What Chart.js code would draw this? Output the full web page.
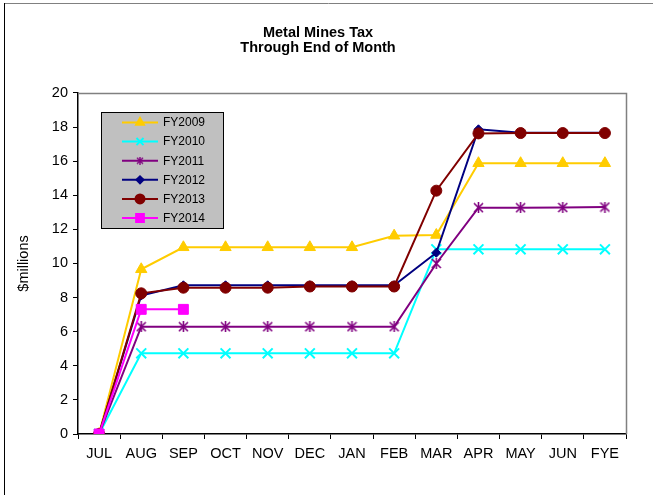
<!DOCTYPE html>
<html>
<head>
<meta charset="utf-8">
<script src="https://cdn.jsdelivr.net/npm/chart.js@4/dist/chart.umd.min.js"></script>
<style>
  html, body { margin: 0; padding: 0; background: #ffffff; }
  #wrap { width: 653px; height: 495px; position: relative; }
</style>
</head>
<body>
<div id="wrap"><canvas id="c" width="653" height="495"></canvas></div>
<script>
// ---- data ----
const months = ['JUL','AUG','SEP','OCT','NOV','DEC','JAN','FEB','MAR','APR','MAY','JUN','FYE'];
const seriesNames = ['FY2009','FY2010','FY2011','FY2012','FY2013','FY2014'];
const fy2009 = [0, 9.66, 10.95, 10.95, 10.95, 10.95, 10.95, 11.63, 11.67, 15.88, 15.88, 15.88, 15.88];
const fy2010 = [0, 4.73, 4.73, 4.73, 4.73, 4.73, 4.73, 4.73, 10.83, 10.83, 10.83, 10.83, 10.83];
const fy2011 = [0, 6.29, 6.29, 6.29, 6.29, 6.29, 6.29, 6.29, 10.0, 13.27, 13.27, 13.28, 13.31];
const fy2012 = [0, 8.12, 8.72, 8.72, 8.72, 8.72, 8.72, 8.72, 10.63, 17.87, 17.66, 17.66, 17.66];
const fy2013 = [0, 8.25, 8.58, 8.58, 8.58, 8.65, 8.65, 8.65, 14.27, 17.63, 17.65, 17.65, 17.65];
const fy2014 = [0, 7.31, 7.31];
const yMin = 0, yMax = 20, yStep = 2;
const titleLines = ['Metal Mines Tax', 'Through End of Month'];
const yTitle = '$millions';

const FONT = 'Liberation Sans, Arial, Helvetica, sans-serif';

function asteriskImg(color, size, lw) {
  const c = document.createElement('canvas');
  c.width = size; c.height = size;
  const g = c.getContext('2d');
  g.strokeStyle = color; g.lineWidth = lw;
  const a = 1, b = size - 1, m = size / 2;
  g.beginPath();
  g.moveTo(a, a); g.lineTo(b, b);
  g.moveTo(b, a); g.lineTo(a, b);
  g.moveTo(m, 0); g.lineTo(m, size);
  g.stroke();
  return c;
}

const styles = [
  { color: '#FFCC00', pointStyle: 'triangle', radius: 6.5, lr: 4.5 },
  { color: '#00FFFF', pointStyle: 'crossRot', radius: 7, lr: 5 },
  { color: '#800080', pointStyle: asteriskImg('#800080', 11, 1.6), legendImg: asteriskImg('#800080', 8, 1.4), radius: 6, lr: 4 },
  { color: '#000080', pointStyle: 'rectRot', radius: 4.5, lr: 3.5 },
  { color: '#800000', pointStyle: 'circle', radius: 5.5, lr: 4.5 },
  { color: '#FF00FF', pointStyle: 'rect', radius: 7, lr: 5.5 }
];
const seriesData = [fy2009, fy2010, fy2011, fy2012, fy2013, fy2014];

const datasets = seriesNames.map((name, i) => ({
  label: name,
  data: seriesData[i],
  borderColor: styles[i].color,
  backgroundColor: styles[i].color,
  pointBackgroundColor: styles[i].color,
  pointBorderColor: styles[i].color,
  pointStyle: styles[i].pointStyle,
  pointRadius: styles[i].radius,
  pointBorderWidth: (styles[i].pointStyle === 'crossRot') ? 2 : 1,
  borderWidth: 2,
  tension: 0,
  fill: false,
  order: seriesNames.length - 1 - i
}));

const frame = {
  id: 'frame',
  beforeDraw(chart) {
    const ctx = chart.ctx;
    ctx.save();
    ctx.fillStyle = '#ffffff';
    ctx.fillRect(0, 0, chart.width, chart.height);
    ctx.lineWidth = 1;
    ctx.strokeStyle = '#808080';
    ctx.beginPath(); ctx.moveTo(4, 3.5); ctx.lineTo(chart.width, 3.5); ctx.stroke();
    ctx.strokeStyle = '#000000';
    ctx.beginPath(); ctx.moveTo(4.5, 3); ctx.lineTo(4.5, chart.height); ctx.stroke();
    ctx.restore();
  },
  beforeDatasetsDraw(chart) {
    const a = chart.chartArea, ctx = chart.ctx;
    ctx.save();
    ctx.strokeStyle = '#808080';
    ctx.lineWidth = 1.5;
    ctx.beginPath();
    ctx.moveTo(a.left, Math.round(a.top) + 0.5);
    ctx.lineTo(Math.round(a.right) + 0.5, Math.round(a.top) + 0.5);
    ctx.lineTo(Math.round(a.right) + 0.5, a.bottom);
    ctx.stroke();
    ctx.restore();
  }
};

const legendBox = {
  id: 'legendBox',
  afterDatasetsDraw(chart) {
    const ctx = chart.ctx, a = chart.chartArea;
    const bx = Math.round(a.left) + 23, by = Math.round(a.top) + 19, bw = 122, bh = 116;
    ctx.save();
    ctx.fillStyle = '#C0C0C0';
    ctx.fillRect(bx, by, bw, bh);
    ctx.strokeStyle = '#000000';
    ctx.lineWidth = 1;
    ctx.strokeRect(bx + 0.5, by + 0.5, bw, bh);
    const H = Chart.helpers;
    chart.data.datasets.forEach((ds, i) => {
      const st = styles[i];
      const y = by + 10.5 + i * 19.1;
      ctx.strokeStyle = ds.borderColor;
      ctx.lineWidth = 2;
      ctx.beginPath(); ctx.moveTo(bx + 21, y); ctx.lineTo(bx + 57, y); ctx.stroke();
      const ps = st.legendImg || st.pointStyle;
      ctx.fillStyle = ds.borderColor;
      ctx.strokeStyle = ds.borderColor;
      if (H && H.drawPoint) {
        H.drawPoint(ctx, { pointStyle: ps, radius: st.lr, rotation: 0, borderWidth: (st.pointStyle === 'crossRot') ? 2 : 1 }, bx + 39, y);
      }
      ctx.fillStyle = '#000000';
      ctx.font = '12px ' + FONT;
      ctx.textAlign = 'left';
      ctx.textBaseline = 'middle';
      ctx.fillText(ds.label, bx + 62, y + 0.5);
    });
    ctx.restore();
  }
};

new Chart(document.getElementById('c'), {
  type: 'line',
  data: { labels: months, datasets: datasets },
  plugins: [frame, legendBox],
  options: {
    responsive: false,
    animation: false,
    devicePixelRatio: 1,
    layout: { padding: { left: 10, right: 27, top: 0, bottom: 0 } },
    plugins: {
      legend: { display: false },
      tooltip: { enabled: false },
      title: {
        display: true,
        text: titleLines,
        color: '#000000',
        font: { family: FONT, size: 14.5, weight: 'bold', lineHeight: 1.03 },
        padding: { top: 25.3, bottom: 37.8 }
      }
    },
    scales: {
      x: {
        type: 'category',
        offset: true,
        afterFit(scale) { scale.height = 61; },
        grid: { offset: true, drawOnChartArea: false, drawTicks: true, tickLength: 5, color: '#000000', lineWidth: 1 },
        border: { display: true, color: '#000000', width: 1.5 },
        ticks: { color: '#000000', padding: 6, maxRotation: 0, autoSkip: false, font: { family: FONT, size: 14.5 } }
      },
      y: {
        min: yMin, max: yMax,
        afterFit(scale) { scale.width = 68; },
        grid: { drawOnChartArea: false, drawTicks: true, tickLength: 5, color: '#000000', lineWidth: 1 },
        border: { display: true, color: '#000000', width: 1.5 },
        ticks: { stepSize: yStep, color: '#000000', padding: 5, font: { family: FONT, size: 14.5 } },
        title: { display: true, text: yTitle, color: '#000000', padding: { top: 5.3, bottom: 0 }, font: { family: FONT, size: 14.5 } }
      }
    }
  }
});
</script>
</body>
</html>
